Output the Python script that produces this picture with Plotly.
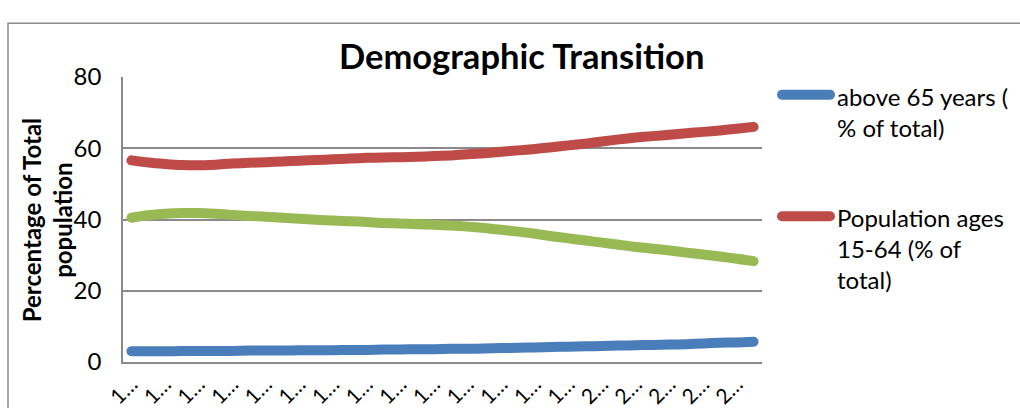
import plotly.graph_objects as go

# ---- data -------------------------------------------------------------
years = list(range(1972, 2010))
tick_years = list(range(1972, 2010, 2))
tick_labels = ["1…"] * 14 + ["2…"] * 5

above_65 = [3.0, 3.0, 3.0, 3.1, 3.1, 3.1, 3.1, 3.2, 3.2, 3.2,
            3.3, 3.3, 3.3, 3.4, 3.4, 3.5, 3.5, 3.6, 3.6, 3.7,
            3.7, 3.8, 3.9, 4.0, 4.1, 4.2, 4.3, 4.4, 4.5, 4.6,
            4.7, 4.8, 4.9, 5.0, 5.2, 5.4, 5.5, 5.7]
ages_15_64 = [56.6, 56.0, 55.6, 55.3, 55.2, 55.4, 55.7, 55.9, 56.1, 56.3,
              56.5, 56.7, 56.9, 57.1, 57.3, 57.4, 57.5, 57.6, 57.8, 58.0,
              58.3, 58.6, 59.0, 59.4, 59.8, 60.3, 60.8, 61.3, 61.9, 62.5,
              63.0, 63.4, 63.8, 64.2, 64.6, 65.0, 65.5, 66.0]
ages_0_14 = [40.5, 41.2, 41.6, 41.8, 41.8, 41.6, 41.3, 41.0, 40.8, 40.5,
             40.2, 39.9, 39.7, 39.5, 39.3, 39.0, 38.9, 38.7, 38.5, 38.3,
             38.0, 37.6, 37.1, 36.6, 36.0, 35.3, 34.7, 34.1, 33.5, 32.9,
             32.3, 31.8, 31.3, 30.7, 30.2, 29.6, 29.0, 28.3]

series_names = ["above 65 years (% of total)",
                "Population ages 15-64 (% of total)",
                "Population ages 0-14 (% of total)"]
legend_lines = [["above 65 years (", "% of total)"],
                ["Population ages", "15-64 (% of", "total)"]]
colors = ["#4A7EBB", "#BE4B48", "#98B954"]

chart_title = "Demographic Transition"
y_title_lines = ["Percentage of Total", "population"]

# ---- geometry (pixels on a 1020 x 408 page) ---------------------------
W, H = 1020, 408
PL, PR, PT, PB = 123, 762, 76.7, 361.7      # plot area edges


def px(x):
    return (x - PL) / (PR - PL)


def py(y):
    return (PB - y) / (PB - PT)


FONT = "Lato"
GRID = "#8A8A8A"

fig = go.Figure()
for vals, name, col in zip([above_65, ages_15_64, ages_0_14], series_names, colors):
    fig.add_trace(go.Scatter(
        x=[str(y) for y in years], y=vals, name=name, mode="lines",
        line=dict(color=col, width=10, shape="spline", smoothing=0.8),
        showlegend=False, hoverinfo="skip"))

shapes = [
    # outer chart frame
    dict(type="rect", xref="paper", yref="paper",
         x0=px(8), x1=px(1040), y0=py(23), y1=py(430),
         line=dict(color=GRID, width=1.5), fillcolor="rgba(0,0,0,0)", layer="below"),
]
annotations = [
    dict(text="<b>%s</b>" % chart_title, xref="paper", yref="paper",
         x=px(521), y=py(55), xanchor="center", yanchor="middle",
         showarrow=False, font=dict(family=FONT, size=34.5, color="#000000")),
    dict(text="<b>%s</b>" % "<br>".join(y_title_lines), xref="paper", yref="paper",
         x=px(47), y=py(220), xanchor="center", yanchor="middle", textangle=-90,
         showarrow=False, font=dict(family=FONT, size=24, color="#000000")),
]

# legend: sample line + wrapped name
legend_y = [94.5, 216]
for lines, col, ly in zip(legend_lines, colors, legend_y):
    shapes.append(dict(type="line", xref="paper", yref="paper",
                       x0=px(782), x1=px(830), y0=py(ly), y1=py(ly),
                       line=dict(color=col, width=10)))
    annotations.append(dict(text="<br>".join(lines), xref="paper", yref="paper",
                            x=px(835), y=py(ly - 15), xanchor="left", yanchor="top",
                            align="left", showarrow=False,
                            font=dict(family=FONT, size=24, color="#000000")))

fig.update_layout(
    width=W, height=H,
    margin=dict(l=PL, r=W - PR, t=PT, b=H - PB, pad=0, autoexpand=False),
    paper_bgcolor="white", plot_bgcolor="white",
    font=dict(family=FONT, size=24, color="#000000"),
    shapes=shapes, annotations=annotations,
    xaxis=dict(type="category", tickmode="array", automargin=False,
               tickvals=[str(y) for y in tick_years], ticktext=tick_labels,
               tickangle=-45, showgrid=False, showline=True,
               linecolor=GRID, linewidth=1.5, ticks="", ticklabelstandoff=0,
               tickfont=dict(family=FONT, size=21, color="#000000"),
               range=[-0.5, len(years) - 0.5], fixedrange=True),
    yaxis=dict(range=[0, 80], dtick=20, showgrid=True, gridcolor=GRID,
               gridwidth=1.5, showline=True, linecolor=GRID, linewidth=1.5,
               zeroline=False, ticks="", ticklabelstandoff=15, automargin=False,
               tickfont=dict(family=FONT, size=24, color="#000000"),
               fixedrange=True),
)

round_caps = """
document.querySelectorAll('.scatterlayer .js-line, .layer-above path, .shapelayer path')
  .forEach(function(p){ p.style.strokeLinecap = 'round'; });
"""
fig.write_html("out.html", post_script=round_caps,
               config={"displayModeBar": False})
